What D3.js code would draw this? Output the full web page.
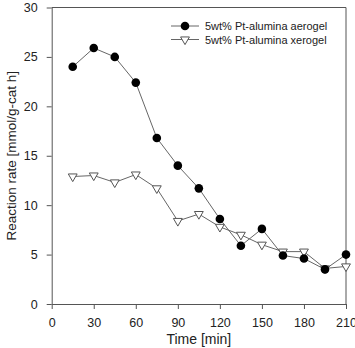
<!DOCTYPE html>
<html><head><meta charset="utf-8">
<script src="https://cdn.jsdelivr.net/npm/d3@7"></script>
<style>body{margin:0;background:#fff}svg{display:block;font-family:"Liberation Sans",Arial,sans-serif}</style>
</head><body>
<svg id="c" width="355" height="348"></svg>
<script>
const times = [15,30,45,60,75,90,105,120,135,150,165,180,195,210];
const aerogel = [24.0,25.9,25.0,22.4,16.8,14.0,11.7,8.6,5.9,7.6,4.9,4.6,3.5,5.0];
const xerogel = [12.9,13.0,12.3,13.1,11.7,8.4,9.1,7.8,7.0,6.0,5.3,5.3,3.6,3.8];
const xTicks = [0,30,60,90,120,150,180,210];
const yTicks = [0,5,10,15,20,25,30];
const seriesNames = ["5wt% Pt-alumina aerogel","5wt% Pt-alumina xerogel"];

const svg = d3.select("#c");
const L=51.7, R=346, T=7.5, B=304;
const x = d3.scaleLinear().domain([0,210]).range([L,R]);
const y = d3.scaleLinear().domain([0,30]).range([B,T]);
const axisColor="#555";

// frame top/right
svg.append("line").attr("x1",L).attr("x2",R).attr("y1",T).attr("y2",T).attr("stroke",axisColor).attr("stroke-width",1);
svg.append("line").attr("x1",R).attr("x2",R).attr("y1",T).attr("y2",B).attr("stroke",axisColor).attr("stroke-width",1);

const gx = svg.append("g").attr("transform",`translate(0,${B})`)
  .call(d3.axisBottom(x).tickValues(xTicks).tickSize(5).tickPadding(9).tickSizeOuter(0));
const gy = svg.append("g").attr("transform",`translate(${L},0)`)
  .call(d3.axisLeft(y).tickValues(yTicks).tickSize(5).tickPadding(9).tickSizeOuter(0));
[gx,gy].forEach(g=>{
  g.select(".domain").attr("stroke",axisColor);
  g.selectAll(".tick line").attr("stroke",axisColor);
  g.selectAll(".tick text").attr("fill","#222").style("font-size","12.5px").style("font-family","'Liberation Sans',Arial,sans-serif");
});

svg.append("text").attr("x",(L+R)/2).attr("y",344).attr("text-anchor","middle")
  .attr("fill","#222").style("font-size","14px").text("Time [min]");
svg.append("text").attr("transform",`translate(16,${(T+B)/2}) rotate(-90)`).attr("text-anchor","middle")
  .attr("fill","#222").style("font-size","13.5px").text("Reaction rate [mmol/g-cat h]");

const line = d3.line().x(d=>x(d[0])).y(d=>y(d[1]));
const lineColor="#666";
const dA = times.map((t,i)=>[t,aerogel[i]]);
const dX = times.map((t,i)=>[t,xerogel[i]]);
svg.append("path").datum(dX).attr("d",line).attr("fill","none").attr("stroke",lineColor).attr("stroke-width",1);
svg.append("path").datum(dA).attr("d",line).attr("fill","none").attr("stroke",lineColor).attr("stroke-width",1);

const tri = d3.symbol().type(d3.symbolTriangle).size(34);
svg.selectAll(".tri").data(dX).join("path").attr("class","tri")
  .attr("d",tri).attr("transform",d=>`translate(${x(d[0])},${y(d[1])}) rotate(180)`)
  .attr("fill","#fff").attr("stroke","#555").attr("stroke-width",1);
svg.selectAll(".dot").data(dA).join("circle").attr("class","dot")
  .attr("cx",d=>x(d[0])).attr("cy",d=>y(d[1])).attr("r",4.3).attr("fill","#000");

// legend
const lg = svg.append("g");
[0,1].forEach(i=>{
  const ly = 26 + i*13.5;
  lg.append("line").attr("x1",171).attr("x2",199).attr("y1",ly).attr("y2",ly).attr("stroke",lineColor);
  if(i===0) lg.append("circle").attr("cx",185).attr("cy",ly).attr("r",4.3).attr("fill","#000");
  else lg.append("path").attr("d",tri).attr("transform",`translate(185,${ly}) rotate(180)`).attr("fill","#fff").attr("stroke","#555");
  lg.append("text").attr("x",205).attr("y",ly+4).attr("fill","#222").style("font-size","11px").text(seriesNames[i]);
});
</script>
</body></html>
